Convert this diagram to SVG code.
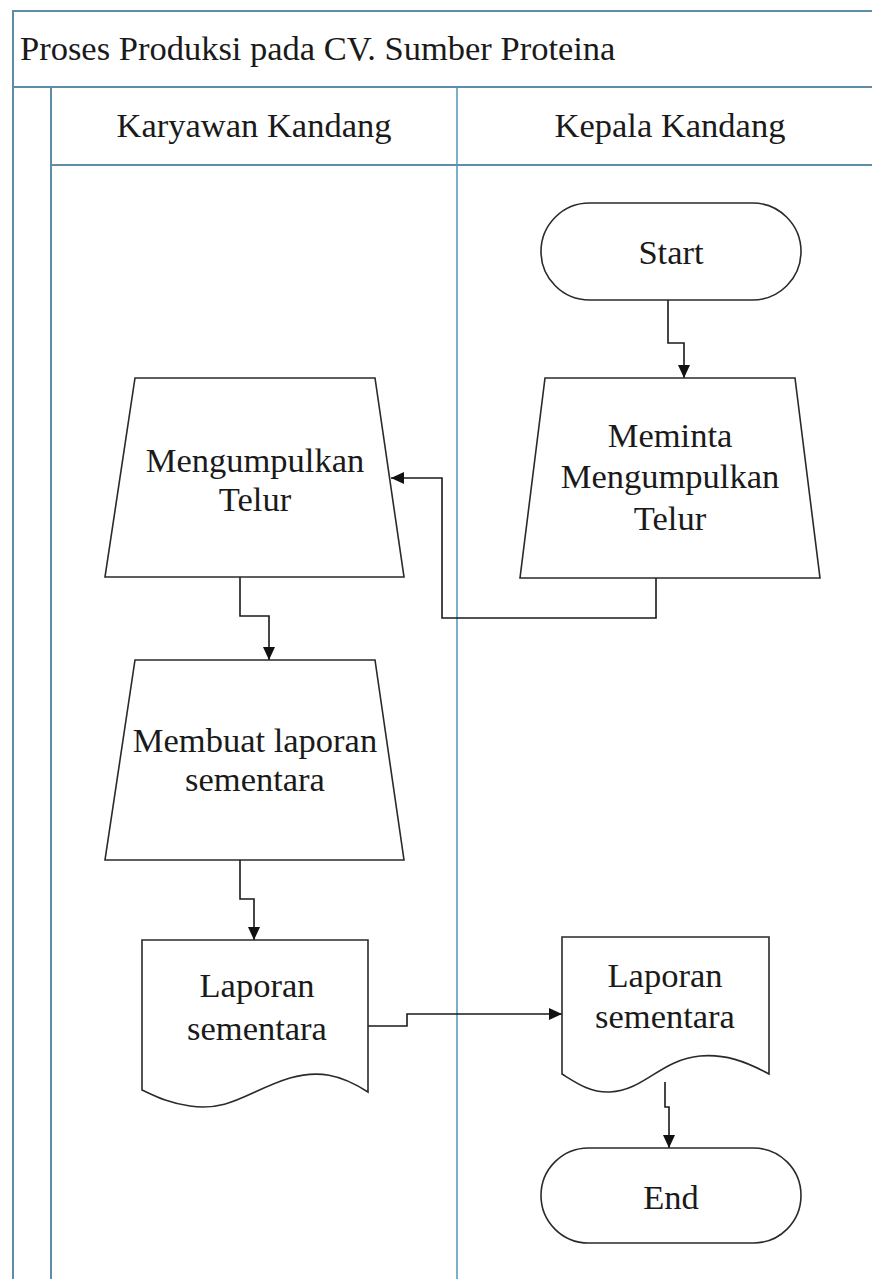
<svg xmlns="http://www.w3.org/2000/svg" width="872" height="1279" viewBox="0 0 872 1279">
  <defs>
    <marker id="arrow" markerWidth="14" markerHeight="14" refX="13" refY="7" orient="auto" markerUnits="userSpaceOnUse">
      <path d="M0,1 L13,7 L0,13 Z" fill="#111"/>
    </marker>
  </defs>
  <style>
    .pool { fill: none; stroke: #5f8ca6; stroke-width: 2; }
    .lane { fill: none; stroke: #4f97b6; stroke-width: 1.5; }
    .shape { fill: #fff; stroke: #2a2a2a; stroke-width: 1.6; }
    .conn { fill: none; stroke: #1a1a1a; stroke-width: 1.6; marker-end: url(#arrow); }
    text { font-family: "Liberation Serif", "Times New Roman", serif; font-size: 34.5px; fill: #1a1a1a; text-anchor: middle; }
    .title { text-anchor: start; }
  </style>

  <rect width="872" height="1279" fill="#fff"/>

  <!-- pool and lanes -->
  <g id="pool">
    <path class="pool" d="M13,1279 V11 H872"/>
    <path class="pool" d="M13,87 H872"/>
    <path class="pool" d="M51,87 V1279"/>
    <path class="pool" d="M51,165 H872"/>
    <path class="lane" d="M457,87 V1279"/>
    <text class="title" x="20" y="60">Proses Produksi pada CV. Sumber Proteina</text>
    <text x="254" y="137">Karyawan Kandang</text>
    <text x="670" y="137">Kepala Kandang</text>
  </g>

  <!-- connectors -->
  <g id="connectors">
    <path class="conn" d="M668,300 V343 H684 V378"/>
    <path class="conn" d="M656,578 V618 H442 V478 H391"/>
    <path class="conn" d="M240,577 V616 H269 V660"/>
    <path class="conn" d="M240,860 V899 H254 V940"/>
    <path class="conn" d="M368,1026 H407 V1014 H562"/>
    <path class="conn" d="M665,1082 V1107 H669 V1148"/>
  </g>

  <g id="start">
    <rect class="shape" x="541" y="203" width="260" height="97" rx="48.5"/>
    <text x="671" y="264">Start</text>
  </g>

  <g id="meminta">
    <path class="shape" d="M545,378 H795 L820,578 H520 Z"/>
    <text x="670" y="447">Meminta</text>
    <text x="670" y="488">Mengumpulkan</text>
    <text x="670" y="530">Telur</text>
  </g>

  <g id="mengumpulkan">
    <path class="shape" d="M135,378 H375 L404,577 H105 Z"/>
    <text x="255" y="472">Mengumpulkan</text>
    <text x="255" y="511">Telur</text>
  </g>

  <g id="membuat-laporan">
    <path class="shape" d="M135,660 H375 L404,860 H105 Z"/>
    <text x="255" y="752">Membuat laporan</text>
    <text x="255" y="791">sementara</text>
  </g>

  <g id="laporan-karyawan">
    <path class="shape" d="M142,940 H368 V1092 C340,1074 318,1070 290,1078 C250,1090 230,1112 190,1106 C168,1103 155,1096 142,1090 Z"/>
    <text x="257" y="997">Laporan</text>
    <text x="257" y="1040">sementara</text>
  </g>

  <g id="laporan-kepala">
    <path class="shape" d="M562,937 H769 V1074 C745,1061 725,1054 700,1056 C660,1060 645,1090 610,1092 C590,1093 575,1082 562,1074 Z"/>
    <text x="665" y="987">Laporan</text>
    <text x="665" y="1028">sementara</text>
  </g>

  <g id="end">
    <rect class="shape" x="541" y="1148" width="260" height="95" rx="47.5"/>
    <text x="671" y="1209">End</text>
  </g>
</svg>
